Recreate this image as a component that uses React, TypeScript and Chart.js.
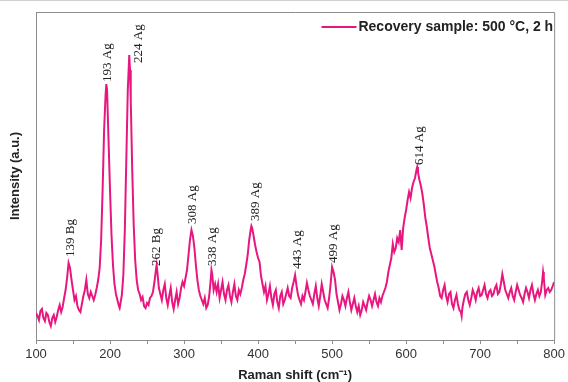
import React, { useEffect, useRef } from "react";
import { Chart, registerables } from "chart.js";

Chart.register(...registerables);

// Raman shift (cm^-1)
const ramanShift = [
  100, 102, 104, 106, 108, 110, 112, 114, 116, 118,
  120, 122, 124, 126, 128, 130, 132, 134, 136, 138,
  140, 142, 144, 146, 148, 150, 152, 154, 156, 158,
  160, 162, 164, 166, 168, 170, 172, 174, 176, 178,
  180, 182, 184, 186, 188, 190, 192, 194, 195, 196,
  198, 200, 202, 204, 206, 208, 210, 212, 213, 214,
  216, 218, 220, 222, 224, 226, 227, 228, 230, 232,
  234, 236, 238, 240, 242, 244, 246, 248, 250, 252,
  254, 256, 258, 260, 262, 263, 264, 266, 268, 270,
  272, 274, 276, 278, 280, 282, 284, 286, 288, 290,
  292, 294, 296, 298, 300, 302, 304, 306, 308, 310,
  312, 314, 316, 318, 320, 322, 324, 326, 328, 330,
  332, 334, 336, 337, 338, 340, 342, 344, 346, 348,
  350, 352, 354, 356, 358, 360, 362, 364, 366, 368,
  370, 372, 374, 376, 378, 380, 382, 384, 386, 388,
  390, 391, 392, 394, 396, 398, 400, 402, 404, 406,
  408, 410, 412, 414, 416, 418, 420, 422, 424, 426,
  428, 430, 432, 434, 436, 438, 440, 442, 444, 446,
  448, 450, 452, 454, 456, 458, 460, 462, 464, 466,
  468, 470, 472, 474, 476, 478, 480, 482, 484, 486,
  488, 490, 492, 494, 496, 498, 500, 502, 504, 506,
  508, 510, 512, 514, 516, 518, 520, 522, 524, 526,
  528, 530, 532, 534, 536, 538, 540, 542, 544, 546,
  548, 550, 552, 554, 556, 558, 560, 562, 564, 566,
  568, 570, 572, 574, 576, 578, 580, 582, 584, 586,
  588, 590, 592, 594, 596, 598, 600, 602, 604, 606,
  608, 610, 612, 614, 615, 616, 618, 620, 622, 624,
  626, 628, 630, 632, 634, 636, 638, 640, 642, 644,
  646, 648, 650, 652, 654, 656, 658, 660, 662, 664,
  666, 668, 670, 672, 674, 675, 676, 678, 680, 682,
  684, 686, 688, 690, 692, 694, 696, 698, 700, 702,
  704, 706, 708, 710, 712, 714, 716, 718, 720, 722,
  724, 726, 728, 730, 732, 734, 736, 738, 740, 742,
  744, 746, 748, 750, 752, 754, 756, 758, 760, 762,
  764, 766, 768, 770, 772, 774, 776, 778, 780, 782,
  784, 785, 786, 788, 790, 792, 794, 796, 798, 800,
];

// Intensity (a.u.)
const intensity = [
  27, 24, 20, 29, 31, 22, 19, 27, 25, 18,
  14, 22, 25, 18, 23, 30, 35, 28, 33, 42,
  50, 62, 77, 72, 60, 50, 40, 44, 34, 30,
  28, 36, 44, 50, 60, 46, 42, 48, 44, 40,
  45, 52, 60, 72, 100, 150, 210, 245, 256, 250,
  200, 150, 105, 75, 56, 46, 40, 34, 32, 36,
  45, 65, 110, 180, 250, 285, 270, 240, 170, 115,
  80, 60, 50, 46, 40, 43, 34, 32, 37, 35,
  42, 44, 48, 58, 70, 75, 68, 52, 46, 40,
  50, 56, 42, 35, 44, 52, 38, 31, 40, 48,
  36, 42, 52, 58, 54, 62, 70, 85, 100, 110,
  104, 92, 75, 60, 50, 44, 40, 36, 42, 32,
  35, 44, 60, 70, 66, 50, 56, 48, 56, 42,
  50, 58, 46, 40, 50, 55, 44, 38, 48, 56,
  44, 40, 50, 46, 52, 60, 66, 75, 85, 100,
  110, 114, 112, 104, 95, 88, 82, 78, 64, 56,
  48, 54, 40, 46, 54, 42, 35, 46, 50, 38,
  32, 44, 48, 36, 40, 46, 52, 44, 42, 52,
  58, 65, 54, 45, 40, 36, 44, 40, 48, 57,
  50, 44, 40, 36, 46, 54, 42, 34, 44, 56,
  48, 40, 36, 32, 42, 56, 73, 68, 60, 46,
  38, 30, 36, 44, 40, 34, 42, 48, 38, 30,
  36, 42, 34, 28, 34, 25, 30, 38, 34, 30,
  38, 44, 40, 34, 40, 46, 38, 34, 42, 38,
  44, 48, 52, 58, 68, 75, 82, 96, 88, 92,
  102, 98, 110, 90, 112, 122, 130, 140, 148, 142,
  152, 158, 162, 170, 173, 168, 160, 154, 146, 135,
  122, 113, 102, 92, 86, 80, 74, 66, 58, 52,
  44, 42, 50, 55, 44, 38, 46, 48, 36, 32,
  40, 45, 36, 30, 28, 24, 32, 40, 46, 48,
  40, 35, 42, 50, 46, 40, 48, 52, 44, 45,
  50, 55, 46, 42, 48, 50, 44, 46, 52, 55,
  46, 48, 56, 66, 58, 50, 46, 42, 48, 52,
  44, 40, 48, 55, 50, 45, 42, 38, 46, 52,
  48, 42, 50, 55, 46, 40, 46, 50, 44, 48,
  60, 68, 62, 45, 50, 52, 48, 50, 54, 58,
];

// Peak annotations
const peakNames = ["139 Bg", "193 Ag", "224 Ag", "262 Bg", "308 Ag", "338 Ag", "389 Ag", "443 Ag", "499 Ag", "614 Ag"];
const labelShift = [147, 196.5, 238, 263.5, 312, 339, 396, 453, 502, 618];
const labelBase = [83, 258, 277, 74, 116, 74, 119, 71, 77, 175];

const seriesName = "Recovery sample: 500 °C, 2 h";
const lineColor = "#E8177F";
const frameColor = "#8c8c8c";

const decorPlugin = {
  id: "decor",
  afterDraw(chart: any) {
    const { ctx, chartArea, scales } = chart;
    const { left, right, top, bottom } = chartArea;
    ctx.save();
    // page top line
    ctx.strokeStyle = "#d0d0d0";
    ctx.lineWidth = 1;
    ctx.beginPath();
    ctx.moveTo(0, 0.5);
    ctx.lineTo(chart.width, 0.5);
    ctx.stroke();
    // frame top + right
    ctx.strokeStyle = frameColor;
    ctx.beginPath();
    ctx.moveTo(left, top + 0.5);
    ctx.lineTo(right + 0.5, top + 0.5);
    ctx.lineTo(right + 0.5, bottom);
    ctx.stroke();
    // legend
    ctx.font = "bold 14px 'Liberation Sans', Arial, sans-serif";
    ctx.textBaseline = "middle";
    ctx.textAlign = "right";
    const ly = top + 15;
    const tx = right - 1;
    const tw = ctx.measureText(seriesName).width;
    ctx.fillStyle = "#222";
    ctx.fillText(seriesName, tx, ly);
    ctx.strokeStyle = lineColor;
    ctx.lineWidth = 2;
    ctx.beginPath();
    ctx.moveTo(tx - tw - 37, ly);
    ctx.lineTo(tx - tw - 2, ly);
    ctx.stroke();
    // peak labels
    ctx.font = "13px 'Liberation Serif', 'Times New Roman', serif";
    ctx.fillStyle = "#222";
    ctx.textAlign = "left";
    ctx.textBaseline = "middle";
    for (let i = 0; i < peakNames.length; i++) {
      const px = scales.x.getPixelForValue(labelShift[i]);
      const py = scales.y.getPixelForValue(labelBase[i]);
      ctx.save();
      ctx.translate(px, py);
      ctx.rotate(-Math.PI / 2);
      ctx.fillText(peakNames[i], 0, 0);
      ctx.restore();
    }
    ctx.restore();
  },
};

export default function App() {
  const ref = useRef<HTMLCanvasElement | null>(null);
  useEffect(() => {
    if (!ref.current) return;
    const chart = new Chart(ref.current, {
      type: "line",
      data: {
        datasets: [
          {
            label: seriesName,
            data: ramanShift.map((x, i) => ({ x, y: intensity[i] })),
            borderColor: lineColor,
            backgroundColor: lineColor,
            borderWidth: 2,
            pointRadius: 0,
            tension: 0,
          },
        ],
      },
      options: {
        animation: false,
        responsive: false,
        devicePixelRatio: 1,
        layout: { padding: { top: 12, right: 10, left: 0, bottom: 0 } },
        plugins: { legend: { display: false }, tooltip: { enabled: false } },
        scales: {
          x: {
            type: "linear",
            min: 100,
            max: 800,
            afterFit: (s: any) => {
              s.height = 42;
            },
            ticks: {
              stepSize: 50,
              autoSkip: false,
              maxRotation: 0,
              padding: 3,
              color: "#333",
              font: { family: "'Liberation Sans', Arial, sans-serif", size: 13 },
              callback: (v: any) => (Number(v) % 100 === 0 ? String(v) : ""),
            },
            grid: { drawOnChartArea: false, drawTicks: true, tickLength: 4, color: frameColor },
            border: { color: frameColor, width: 1 },
            title: {
              display: true,
              text: "Raman shift (cm⁻¹)",
              color: "#222",
              font: { family: "'Liberation Sans', Arial, sans-serif", size: 13, weight: "bold", lineHeight: 1 },
              padding: 0,
            },
          },
          y: {
            min: 0,
            max: 328,
            afterFit: (s: any) => {
              s.width = 36;
            },
            ticks: { display: false },
            grid: { display: false },
            border: { color: frameColor, width: 1 },
            title: {
              display: true,
              text: "Intensity (a.u.)",
              color: "#222",
              font: { family: "'Liberation Sans', Arial, sans-serif", size: 13, weight: "bold", lineHeight: 1.2 },
              padding: { top: 8, bottom: 0 },
            },
          },
        },
      },
      plugins: [decorPlugin],
    });
    return () => chart.destroy();
  }, []);
  return (
    <div style={{ position: "fixed", left: 0, top: 0, width: 568, height: 382, background: "#fff" }}>
      <canvas ref={ref} width={568} height={382} style={{ display: "block" }} />
    </div>
  );
}
